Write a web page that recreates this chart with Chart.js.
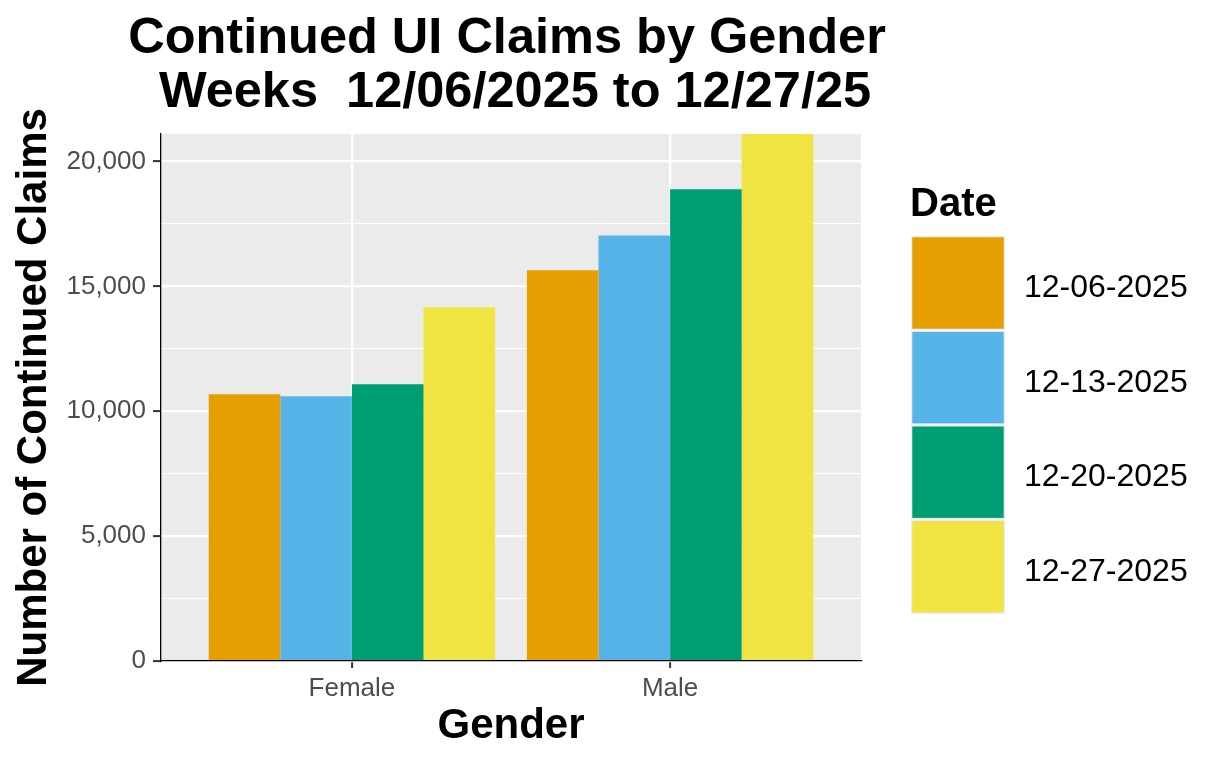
<!DOCTYPE html>
<html>
<head>
<meta charset="utf-8">
<script src="https://cdn.jsdelivr.net/npm/chart.js@4.4.1/dist/chart.umd.min.js"></script>
<style>
  html, body { margin: 0; padding: 0; background: #ffffff; }
  #wrap { width: 1222px; height: 766px; position: relative; }
</style>
</head>
<body>
<div id="wrap"><canvas id="c"></canvas></div>
<script>
// ---- data ----
const categories = ['Female', 'Male'];
const dates = ['12-06-2025', '12-13-2025', '12-20-2025', '12-27-2025'];
const colors = ['#E69F00', '#56B4E9', '#009E73', '#F0E442'];
const claims_1206 = [10680, 15640];
const claims_1213 = [10600, 17040];
const claims_1220 = [11080, 18890];
const claims_1227 = [14160, 21100];
const yMajorTicks = [0, 5000, 10000, 15000, 20000];
const yMinorTicks = [2500, 7500, 12500, 17500];
const titleLines = ['Continued UI Claims by Gender', 'Weeks  12/06/2025 to 12/27/25'];
const legendTitle = 'Date';
const xTitle = 'Gender';
const yTitle = 'Number of Continued Claims';
const yMax = 21100;

const series = [claims_1206, claims_1213, claims_1220, claims_1227];
const FONT = "'Liberation Sans', Arial, sans-serif";

const panelBg = {
  id: 'panelBg',
  beforeDraw(chart) {
    const {ctx, chartArea: a} = chart;
    ctx.save();
    ctx.fillStyle = '#EBEBEB';
    ctx.fillRect(a.left, a.top, a.right - a.left, a.bottom - a.top);
    ctx.restore();
  }
};

const ggTitleLegend = {
  id: 'ggTitleLegend',
  afterDraw(chart) {
    const {ctx, chartArea: a} = chart;
    ctx.save();
    // main title, centred over panel
    ctx.fillStyle = '#000';
    ctx.font = 'bold 50.5px ' + FONT;
    ctx.textAlign = 'center';
    ctx.textBaseline = 'alphabetic';
    const cx = (a.left + a.right) / 2;
    const shift = [-4, 4];
    titleLines.forEach((t, i) => ctx.fillText(t, cx + shift[i], 53.3 + i * 54));
    // legend
    const lx = a.right + 50;
    ctx.textAlign = 'left';
    ctx.font = 'bold 40px ' + FONT;
    ctx.fillText(legendTitle, lx - 1, 215.7);
    const keyTop = 236;
    const pitch = 94.6;
    const keyW = 94, keyH = 94;
    ctx.font = '32px ' + FONT;
    chart.data.datasets.forEach((ds, i) => {
      const y = keyTop + i * pitch;
      ctx.fillStyle = '#EBEBEB';
      ctx.fillRect(lx, y, keyW, keyH);
      ctx.fillStyle = ds.backgroundColor;
      ctx.fillRect(lx + 1.3, y + 1.3, keyW - 2.6, keyH - 2.6);
      ctx.fillStyle = '#000';
      ctx.fillText(ds.label, lx + 113, y + keyH / 2 + 14);
    });
    ctx.restore();
  }
};

const isMajor = (v) => yMajorTicks.includes(v);

new Chart(document.getElementById('c'), {
  type: 'bar',
  data: {
    datasets: dates.map((d, i) => ({
      label: d,
      data: series[i].map((v, j) => ({x: j + 1, y: v})),
      backgroundColor: colors[i],
      borderWidth: 0,
      barPercentage: 1.0,
      categoryPercentage: 0.9
    }))
  },
  plugins: [panelBg, ggTitleLegend],
  options: {
    responsive: true,
    maintainAspectRatio: false,
    animation: false,
    devicePixelRatio: 1,
    layout: { padding: { left: 0, right: 361, top: 134, bottom: 0 } },
    plugins: {
      legend: { display: false },
      title: { display: false },
      tooltip: { enabled: false }
    },
    scales: {
      x: {
        type: 'linear',
        offset: false,
        min: 0.4,
        max: categories.length + 0.6,
        afterBuildTicks: (s) => { s.ticks = categories.map((c, i) => ({value: i + 1})); },
        afterFit: (s) => { s.height = 105; },
        ticks: {
          callback: (v) => categories[Math.round(v) - 1] || '',
          color: '#4D4D4D',
          font: { family: FONT, size: 26 },
          padding: 5.5,
          maxRotation: 0,
          autoSkip: false
        },
        grid: {
          offset: false,
          color: '#FFFFFF',
          lineWidth: 2.2,
          drawTicks: true,
          tickLength: 7,
          tickColor: '#333333',
          tickWidth: 2
        },
        border: { display: true, color: '#000000', width: 1.3, z: 1 },
        title: {
          display: true,
          text: xTitle,
          color: '#000',
          font: { family: FONT, size: 42, weight: 'bold' },
          padding: { top: 0, bottom: 14.7 }
        }
      },
      y: {
        type: 'linear',
        min: 0,
        max: yMax,
        afterBuildTicks: (s) => {
          s.ticks = yMajorTicks.concat(yMinorTicks).sort((a, b) => a - b).map(v => ({value: v}));
        },
        afterFit: (s) => { s.width = 161; },
        ticks: {
          callback: (v) => isMajor(v) ? v.toLocaleString('en-US') : '',
          color: '#4D4D4D',
          font: { family: FONT, size: 26 },
          padding: 7,
          autoSkip: false
        },
        grid: {
          color: '#FFFFFF',
          lineWidth: (c) => isMajor(c.tick.value) ? 2.2 : 1.1,
          drawTicks: true,
          tickLength: 8,
          tickColor: (c) => isMajor(c.tick.value) ? '#333333' : 'rgba(0,0,0,0)',
          tickWidth: 2
        },
        border: { display: true, color: '#000000', width: 1.3, z: 1 },
        title: {
          display: true,
          text: yTitle,
          color: '#000',
          font: { family: FONT, size: 42, weight: 'bold' },
          padding: { top: 9.3, bottom: 0 }
        }
      }
    }
  }
});
</script>
</body>
</html>
